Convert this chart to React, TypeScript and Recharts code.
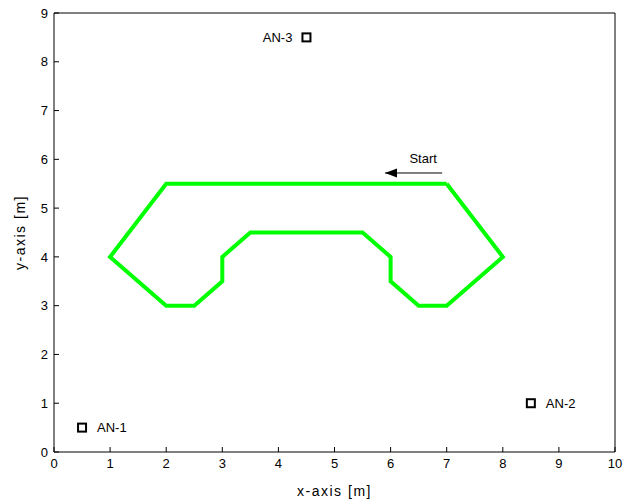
import React from "react";
import { ScatterChart, Scatter, XAxis, YAxis, Label } from "recharts";

// robot path (closed loop, starts at the "Start" arrow)
const pathX = [7, 2, 1, 2, 2.5, 3, 3, 3.5, 5.5, 6, 6, 6.5, 7, 8, 7];
const pathY = [5.5, 5.5, 4, 3, 3, 3.5, 4, 4.5, 4.5, 4, 3.5, 3, 3, 4, 5.5];

// anchor nodes
const anchorNames = ["AN-1", "AN-2", "AN-3"];
const anchorX = [0.5, 8.5, 4.5];
const anchorY = [0.5, 1, 8.5];
const anchorSide = ["right", "right", "left"];

// start arrow: tail -> head
const arrowX = [6.92, 5.9];
const arrowY = [5.72, 5.72];
const startText = "Start";
const startX = 6.58;
const startY = 5.92;

const xTicks = [0, 1, 2, 3, 4, 5, 6, 7, 8, 9, 10];
const yTicks = [0, 1, 2, 3, 4, 5, 6, 7, 8, 9];

const FONT = '"Liberation Sans", Arial, Helvetica, sans-serif';

const pathData = pathX.map((x, i) => ({ x, y: pathY[i] }));
const anchorData = anchorNames.map((name, i) => ({
  name,
  x: anchorX[i],
  y: anchorY[i],
  side: anchorSide[i],
}));
const arrowData = arrowX.map((x, i) => ({ x, y: arrowY[i], head: i === arrowX.length - 1 }));
const startData = [{ x: startX, y: startY, text: startText }];

const Empty = () => <g />;

const AnchorShape = (props: any) => {
  const { cx, cy, payload } = props;
  const right = payload.side === "right";
  return (
    <g>
      <rect x={cx - 4} y={cy - 4} width={8} height={8} fill="none" stroke="#000" strokeWidth={2} />
      <text
        x={right ? cx + 15 : cx - 14}
        y={cy}
        dy="0.35em"
        textAnchor={right ? "start" : "end"}
        fontSize={13}
        fontFamily={FONT}
        fill="#000"
      >
        {payload.name}
      </text>
    </g>
  );
};

const ArrowHead = (props: any) => {
  const { cx, cy, payload } = props;
  if (!payload.head) return <g />;
  return <polygon points={`${cx},${cy} ${cx + 12},${cy - 4.5} ${cx + 12},${cy + 4.5}`} fill="#000" />;
};

const TextShape = (props: any) => {
  const { cx, cy, payload } = props;
  return (
    <text x={cx} y={cy} textAnchor="middle" fontSize={13} fontFamily={FONT} fill="#000">
      {payload.text}
    </text>
  );
};

export default function App() {
  const tick = { fontSize: 13, fill: "#000", fontFamily: FONT };
  const axisLine = { stroke: "#000" };
  return (
    <div style={{ width: 616, height: 493 }}>
      <style>{"html,body{overflow:hidden} .recharts-surface{overflow:visible}"}</style>
      <ScatterChart
        width={616}
        height={493}
        margin={{ top: 4, right: 8, bottom: 0, left: 0 }}
        style={{ fontFamily: FONT }}
      >
        <XAxis
          xAxisId="b"
          dataKey="x"
          type="number"
          domain={[0, 10]}
          ticks={xTicks}
          interval={0}
          height={49}
          tickSize={-5}
          tickMargin={12}
          tick={tick}
          axisLine={axisLine}
          tickLine={axisLine}
        >
          <Label
            value="x-axis [m]"
            position="insideBottom"
            offset={5}
            style={{ fontSize: 14, fill: "#000", fontFamily: FONT, letterSpacing: 1.5 }}
          />
        </XAxis>
        <XAxis
          xAxisId="t"
          orientation="top"
          dataKey="x"
          type="number"
          domain={[0, 10]}
          ticks={xTicks}
          interval={0}
          height={1}
          tickSize={-5}
          tick={false}
          axisLine={axisLine}
          tickLine={axisLine}
        />
        <YAxis
          yAxisId="l"
          dataKey="y"
          type="number"
          domain={[0, 9]}
          ticks={yTicks}
          interval={0}
          width={46}
          tickSize={-5}
          tickMargin={11}
          tick={tick}
          axisLine={axisLine}
          tickLine={axisLine}
        >
          <Label
            value="y-axis [m]"
            angle={-90}
            position="insideLeft"
            offset={12}
            style={{ fontSize: 14, fill: "#000", fontFamily: FONT, letterSpacing: 1.5, textAnchor: "middle" }}
          />
        </YAxis>
        <YAxis
          yAxisId="r"
          orientation="right"
          dataKey="y"
          type="number"
          domain={[0, 9]}
          ticks={yTicks}
          interval={0}
          width={1}
          tickSize={-5}
          tick={false}
          axisLine={axisLine}
          tickLine={axisLine}
        />
        <Scatter
          xAxisId="b"
          yAxisId="l"
          data={pathData}
          fill="#00ff00"
          stroke="#00ff00"
          line={{ stroke: "#00ff00", strokeWidth: 4 }}
          shape={Empty}
          isAnimationActive={false}
        />
        <Scatter
          xAxisId="b"
          yAxisId="l"
          data={arrowData}
          fill="#000"
          stroke="#000"
          line={{ stroke: "#000", strokeWidth: 1 }}
          shape={ArrowHead}
          isAnimationActive={false}
        />
        <Scatter
          xAxisId="b"
          yAxisId="l"
          data={startData}
          shape={TextShape}
          isAnimationActive={false}
        />
        <Scatter
          xAxisId="b"
          yAxisId="l"
          data={anchorData}
          shape={AnchorShape}
          isAnimationActive={false}
        />
      </ScatterChart>
    </div>
  );
}
